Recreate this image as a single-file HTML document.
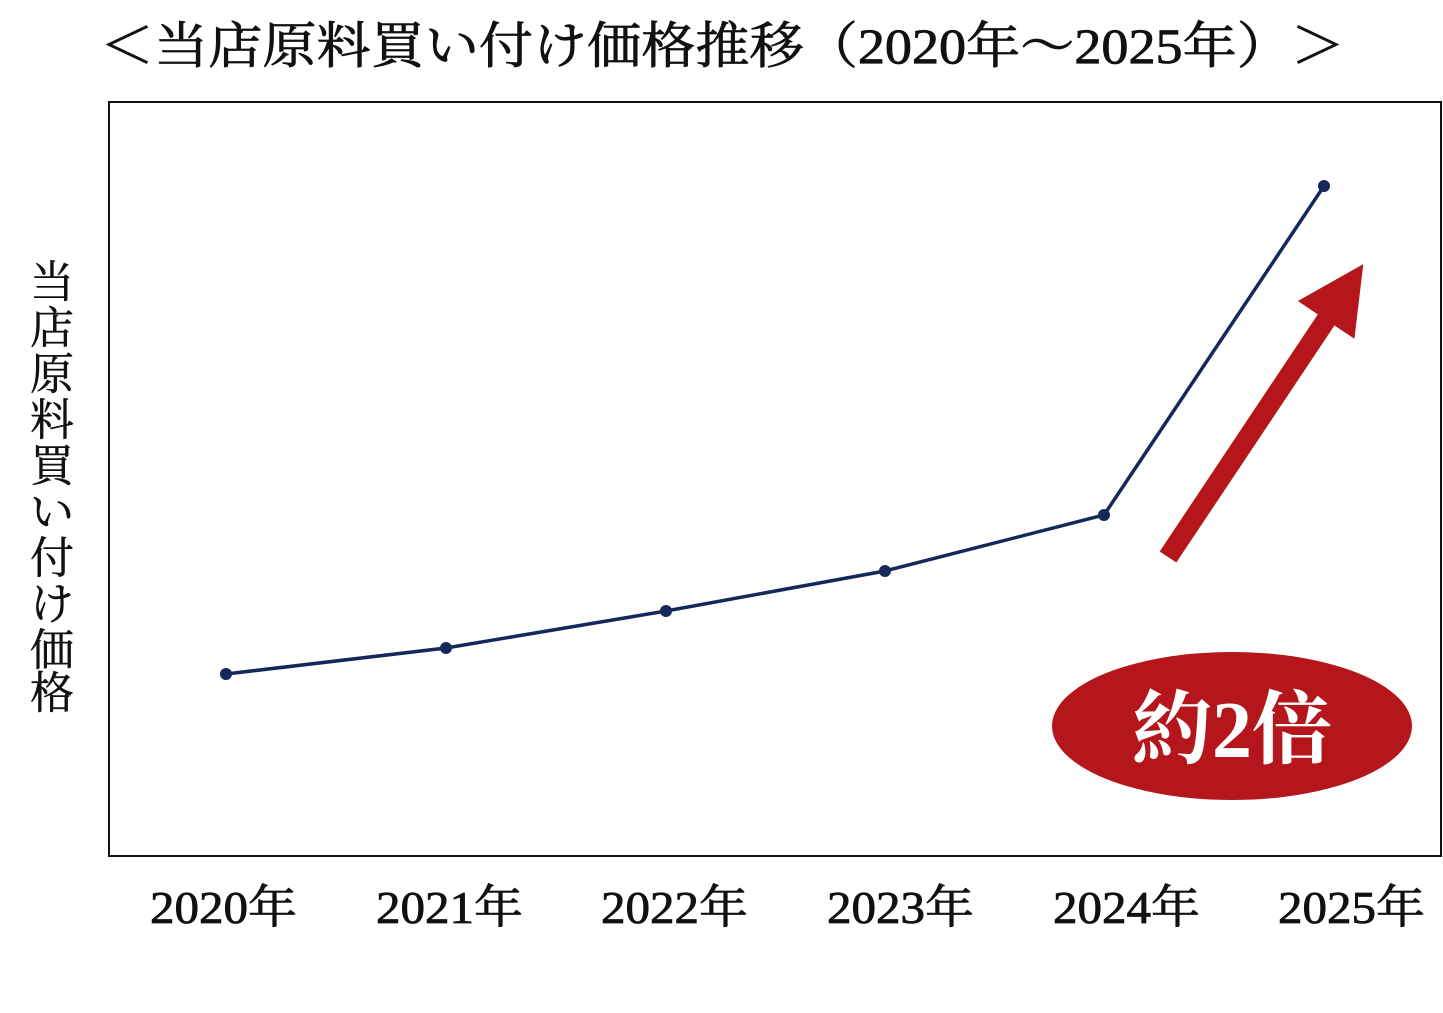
<!DOCTYPE html>
<html><head><meta charset="utf-8"><style>
body{margin:0;background:#fff;}
svg{display:block;}
text{font-family:"Liberation Serif","Noto Serif CJK SC",serif;}
</style></head><body>
<svg width="1443" height="1013" viewBox="0 0 1443 1013">
<rect x="0" y="0" width="1443" height="1013" fill="#fff"/>
<text x="100" y="63" font-size="50" textLength="1245" lengthAdjust="spacingAndGlyphs" fill="#111" stroke="#111" stroke-width="0.8">＜当店原料買い付け価格推移（2020年～2025年）＞</text>
<rect x="109" y="102" width="1332" height="754" fill="none" stroke="#111" stroke-width="2"/>
<g font-size="44" fill="#111" text-anchor="middle" stroke="#111" stroke-width="0.5">
<text x="52" y="297">当</text><text x="52" y="343">店</text><text x="52" y="389">原</text><text x="52" y="435">料</text><text x="52" y="481">買</text><text x="52" y="527">い</text><text x="52" y="573">付</text><text x="52" y="619">け</text><text x="52" y="665">価</text><text x="52" y="708">格</text>
</g>
<polyline points="226,674 446,648 666,611 885,571 1104,515 1324,186" fill="none" stroke="#14285a" stroke-width="3.5"/>
<g fill="#14285a">
<circle cx="226" cy="674" r="6"/><circle cx="446" cy="648" r="6"/><circle cx="666" cy="611" r="6"/><circle cx="885" cy="571" r="6"/><circle cx="1104" cy="515" r="6"/><circle cx="1324" cy="186" r="6"/>
</g>
<g transform="translate(1168,557) rotate(-56.3)">
<polygon points="0,-10 285,-10 285,-34 352,0 285,34 285,10 0,10" fill="#b5161b"/>
</g>
<ellipse cx="1232" cy="726" rx="180" ry="74" fill="#b5161b"/>
<text x="1232" y="757" font-size="80" font-weight="bold" fill="#fff" text-anchor="middle">約2倍</text>
<g font-size="46" fill="#111" stroke="#111" stroke-width="0.8">
<text x="150" y="923" textLength="147" lengthAdjust="spacingAndGlyphs">2020年</text>
<text x="376" y="923" textLength="147" lengthAdjust="spacingAndGlyphs">2021年</text>
<text x="601" y="923" textLength="147" lengthAdjust="spacingAndGlyphs">2022年</text>
<text x="827" y="923" textLength="147" lengthAdjust="spacingAndGlyphs">2023年</text>
<text x="1053" y="923" textLength="147" lengthAdjust="spacingAndGlyphs">2024年</text>
<text x="1278" y="923" textLength="147" lengthAdjust="spacingAndGlyphs">2025年</text>
</g>
</svg>
</body></html>
